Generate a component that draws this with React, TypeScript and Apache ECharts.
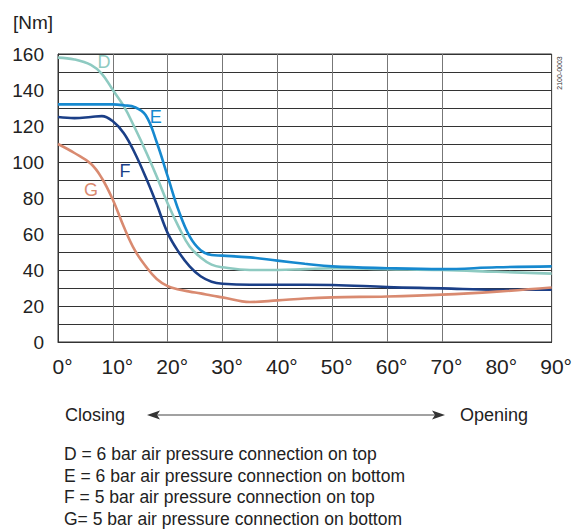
import React, { useEffect, useRef } from "react";
import * as echarts from "echarts";

const degrees = [0, 3, 6, 8, 10, 12, 14, 16, 18, 20, 22, 24, 26, 28, 30, 35, 40, 45, 50, 60, 70, 80, 90];
const seriesD = [158, 157, 154, 149, 140, 131, 119, 106, 92, 77, 64, 53, 47, 43, 41.5, 40, 40, 40.5, 41, 40.5, 40, 39, 38];
const seriesE = [132, 132, 132, 132, 132, 131.5, 130.5, 126, 111, 92, 73, 58.7, 51, 48.3, 48, 47, 45.2, 43.5, 42, 41, 40.5, 41.5, 42];
const seriesF = [125, 124.4, 125, 125.5, 122.6, 116, 105, 91.5, 76.5, 60.5, 50, 42, 36.5, 33.5, 32.4, 31.8, 31.8, 31.8, 31.7, 30.5, 29.8, 29, 29];
const seriesG = [110, 105, 99, 91, 79, 64, 51, 42, 35, 31, 29.2, 28, 27, 25.8, 24.8, 22.2, 23.1, 24.2, 24.8, 25.3, 26.3, 28, 30.3];

const seriesNames = ["D", "E", "F", "G"];
const seriesColors = ["#8ecac1", "#1689cf", "#1b3f87", "#d98a70"];
const labelCoords = [
  [8.4, 155.3],
  [17.8, 124.8],
  [12.2, 94.8],
  [6, 84.6],
];
const verticalGrid = [10, 20, 30, 40, 50, 60, 70];
const legendLines = [
  "D = 6 bar air pressure connection on top",
  "E = 6 bar air pressure connection on bottom",
  "F = 5 bar air pressure connection on top",
  "G= 5 bar air pressure connection on bottom",
];

const FONT = "'Liberation Sans', Arial, sans-serif";

export default function App() {
  const ref = useRef<HTMLDivElement>(null);
  useEffect(() => {
    if (!ref.current) return;
    const chart = echarts.init(ref.current, null, { renderer: "svg" });
    const allData = [seriesD, seriesE, seriesF, seriesG];
    const series: any[] = allData.map((vals, i) => ({
      type: "line",
      name: seriesNames[i],
      data: degrees.map((d, j) => [d, vals[j]]),
      smooth: 0.4,
      showSymbol: false,
      symbol: "none",
      z: 5 + i,
      lineStyle: { color: seriesColors[i], width: 2.6 },
      itemStyle: { color: seriesColors[i] },
      markPoint: {
        symbol: "circle",
        symbolSize: 1,
        itemStyle: { color: "rgba(0,0,0,0)" },
        label: {
          show: true,
          position: "inside",
          formatter: "{b}",
          fontSize: 18,
          fontFamily: FONT,
          color: seriesColors[i],
        },
        data: [{ name: seriesNames[i], coord: labelCoords[i] }],
      },
    }));
    series.push({
      type: "line",
      data: [],
      z: 1,
      markLine: {
        silent: true,
        symbol: ["none", "none"],
        label: { show: false },
        lineStyle: { color: "#777", width: 1, type: "solid" },
        data: verticalGrid.map((x) => ({ xAxis: x })),
      },
    });

    const graphics: any[] = [
      {
        type: "text",
        left: 13,
        top: 13,
        style: { text: "[Nm]", fontSize: 19, fontFamily: FONT, fill: "#222" },
      },
      {
        type: "text",
        x: 559,
        y: 73,
        rotation: Math.PI / 2,
        style: {
          text: "2100-0003",
          fontSize: 7,
          fontFamily: FONT,
          fill: "#333",
          align: "center",
          verticalAlign: "middle",
        },
      },
      {
        type: "text",
        x: 65,
        y: 415,
        style: { text: "Closing", fontSize: 18, fontFamily: FONT, fill: "#222", verticalAlign: "middle" },
      },
      {
        type: "text",
        x: 460,
        y: 415,
        style: { text: "Opening", fontSize: 18, fontFamily: FONT, fill: "#222", verticalAlign: "middle" },
      },
      {
        type: "line",
        shape: { x1: 150, y1: 415, x2: 441, y2: 415 },
        style: { stroke: "#444", lineWidth: 1.2 },
      },
      {
        type: "polygon",
        shape: { points: [[147, 415], [160, 410.5], [157, 415], [160, 419.5]] },
        style: { fill: "#333" },
      },
      {
        type: "polygon",
        shape: { points: [[445, 415], [432, 410.5], [435, 415], [432, 419.5]] },
        style: { fill: "#333" },
      },
    ];
    legendLines.forEach((t, i) => {
      graphics.push({
        type: "text",
        x: 64,
        y: 454 + i * 21.5,
        style: { text: t, fontSize: 17.5, fontFamily: FONT, fill: "#222", verticalAlign: "middle" },
      });
    });

    chart.setOption({
      animation: false,
      backgroundColor: "#fff",
      grid: {
        left: 58,
        right: 23,
        top: 54,
        bottom: 187,
        show: true,
        borderColor: "#333",
        borderWidth: 1,
      },
      xAxis: {
        type: "value",
        min: 0,
        max: 90,
        interval: 10,
        axisLine: { show: true, lineStyle: { color: "#333", width: 1 } },
        axisTick: { show: false },
        splitLine: { show: false },
        axisLabel: {
          formatter: (v: number) => `${v}°`,
          fontSize: 21,
          fontFamily: FONT,
          color: "#222",
          margin: 14,
          padding: [0, 0, 0, 9],
        },
      },
      yAxis: {
        type: "value",
        min: 0,
        max: 160,
        interval: 10,
        axisLine: { show: true, lineStyle: { color: "#333", width: 1 } },
        axisTick: { show: false },
        splitLine: { show: true, lineStyle: { color: "#333", width: 1 } },
        axisLabel: {
          formatter: (v: number) => (v % 20 === 0 ? String(v) : ""),
          fontSize: 19,
          fontFamily: FONT,
          color: "#222",
          margin: 14,
        },
      },
      series,
      graphic: graphics,
    });
    return () => chart.dispose();
  }, []);
  return (
    <div
      ref={ref}
      style={{ position: "fixed", left: 0, top: 0, width: 575, height: 529 }}
    />
  );
}
